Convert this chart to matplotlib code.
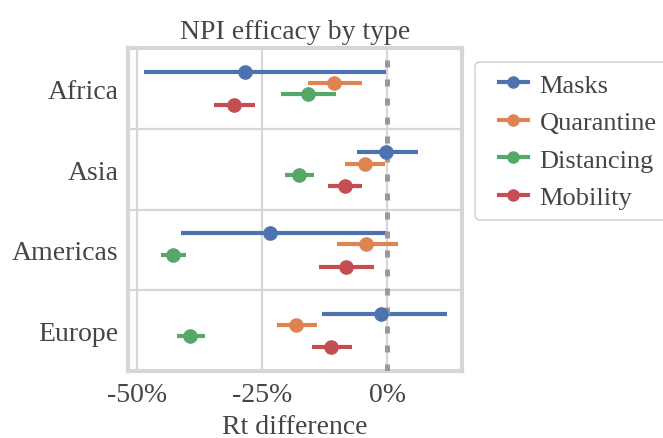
import numpy as np
import matplotlib
matplotlib.use('Agg')
import matplotlib.pyplot as plt
from matplotlib.lines import Line2D
from matplotlib.legend_handler import HandlerLine2D

# 数据：各地区、各类干预措施的 Rt 差值（%），点估计及置信区间
regions = ['Africa', 'Asia', 'Americas', 'Europe']
npi_types = ['Masks', 'Quarantine', 'Distancing', 'Mobility']
colors = ['#4C72B0', '#DD8452', '#55A868', '#C44E52']

masks_mid = [-28.4, -0.2, -23.5, -1.3]
masks_lo = [-48.6, -6.1, -41.2, -13.0]
masks_hi = [-0.3, 6.1, -0.3, 11.9]

quarantine_mid = [-10.6, -4.4, -4.2, -18.2]
quarantine_lo = [-15.9, -8.4, -10.0, -22.0]
quarantine_hi = [-5.1, -0.4, 2.1, -14.1]

distancing_mid = [-15.9, -17.6, -42.7, -39.3]
distancing_lo = [-21.2, -20.4, -45.2, -42.0]
distancing_hi = [-10.2, -14.6, -40.1, -36.4]

mobility_mid = [-30.6, -8.4, -8.2, -11.2]
mobility_lo = [-34.6, -11.8, -13.6, -15.0]
mobility_hi = [-26.4, -5.1, -2.6, -7.1]

x_ticks = [-50, -25, 0]
x_tick_labels = ['-50%', '-25%', '0%']

series = [
    (masks_mid, masks_lo, masks_hi),
    (quarantine_mid, quarantine_lo, quarantine_hi),
    (distancing_mid, distancing_lo, distancing_hi),
    (mobility_mid, mobility_lo, mobility_hi),
]


class RightHandler(HandlerLine2D):
    # 图例中的线段只占句柄框右侧一段
    def get_xdata(self, legend, xdescent, ydescent, width, height, fontsize):
        seg = 21.0
        xd = np.array([width - seg, width]) - xdescent
        xm = np.array([width - seg / 2]) - xdescent
        return xd, xm


plt.rcParams['font.family'] = ['Liberation Serif', 'DejaVu Serif']
plt.rcParams['font.size'] = 20
text_color = '#454545'
grid_color = '#d6d6d6'

fig = plt.figure(figsize=(6.63, 4.39), dpi=100)
ax = fig.add_axes([0.193, 0.153, 0.504, 0.735])

y_base = np.arange(len(regions))
offsets = [-0.21, -0.07, 0.07, 0.21]

for k, (mid, lo, hi) in enumerate(series):
    y = y_base + offsets[k]
    ax.hlines(y, lo, hi, color=colors[k], linewidth=3.0, zorder=2)
    ax.plot(mid, y, 'o', color=colors[k], markersize=9.5, zorder=4)

# 0% 参考线
ax.axvline(0, color='#999999', linewidth=3.6, linestyle=(0, (1.4, 2.4)), zorder=3)

ax.set_xlim(-51.8, 15)
ax.set_ylim(3.5, -0.5)
ax.set_xticks(x_ticks)
ax.set_xticklabels(x_tick_labels)
ax.set_yticks(y_base)
ax.set_yticklabels(regions)
ax.set_yticks([0.5, 1.5, 2.5], minor=True)

ax.grid(False)
ax.grid(axis='x', which='major', color=grid_color, linewidth=1.6, zorder=0)
ax.grid(axis='y', which='minor', color=grid_color, linewidth=1.6, zorder=0)
ax.set_axisbelow(True)
ax.tick_params(which='both', length=0, colors=text_color, labelsize=20)
ax.tick_params(axis='y', pad=7)
ax.tick_params(axis='x', pad=8)

for s in ax.spines.values():
    s.set_color(grid_color)
    s.set_linewidth(3.0)

ax.set_title('NPI efficacy by type', color=text_color, fontsize=20, pad=7)
ax.set_xlabel('Rt difference', color=text_color, fontsize=20, labelpad=5)

handles = [Line2D([0], [0], color=c, linewidth=3.0, marker='o', markersize=8) for c in colors]
leg = ax.legend(handles, npi_types, loc='upper left', bbox_to_anchor=(1.04, 0.957),
                borderaxespad=0, frameon=True, fontsize=19, handlelength=1.56,
                handletextpad=0.45, borderpad=0.42, labelspacing=0.53,
                handler_map={Line2D: RightHandler()})
leg.get_frame().set_edgecolor('#cccccc')
leg.get_frame().set_linewidth(1.2)
for t in leg.get_texts():
    t.set_color(text_color)

fig.savefig('out.png', dpi=100)
